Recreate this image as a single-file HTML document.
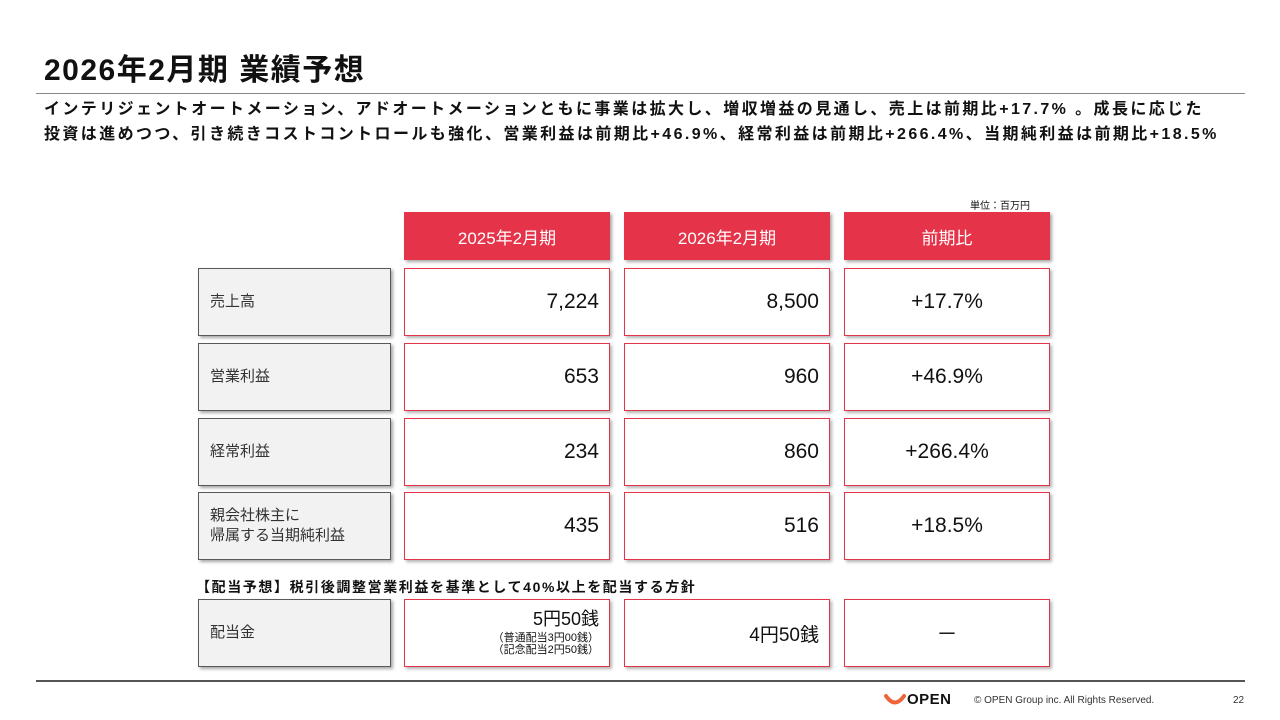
<!DOCTYPE html>
<html><head><meta charset="utf-8"><style>
body{margin:0;width:1280px;height:720px;background:#fff;position:relative;overflow:hidden;font-family:"Liberation Sans","Noto Sans CJK JP",sans-serif;color:#111}
.a{position:absolute;box-sizing:border-box}
.h{background:#e5334a;color:#fff;font-size:17px;display:flex;align-items:center;justify-content:center;box-shadow:2px 2px 3px rgba(0,0,0,.35)}
.l{background:#f2f2f2;border:1.5px solid #595959;font-size:15px;color:#333;display:flex;align-items:center;padding-left:11px;box-shadow:2px 2px 3px rgba(0,0,0,.35);line-height:1.35}
.v{background:#fff;border:1.5px solid #e5334a;font-size:21px;display:flex;align-items:center;justify-content:flex-end;padding-right:10px;box-shadow:2px 2px 3px rgba(0,0,0,.3)}
.c{justify-content:center;padding-right:0}
</style></head><body>
<div class="a" style="left:44px;top:45px;font-size:30px;font-weight:bold;letter-spacing:1.5px">2026年2月期 業績予想</div>
<div class="a" style="left:36px;top:93px;width:1209px;height:1px;background:#888"></div>
<div class="a" style="left:44px;top:97px;font-size:16px;font-weight:bold;line-height:25px;white-space:nowrap;letter-spacing:2.4px">インテリジェントオートメーション、アドオートメーションともに事業は拡大し、増収増益の見通し、売上は前期比+17.7% 。成長に応じた<br>投資は進めつつ、引き続きコストコントロールも強化、営業利益は前期比+46.9%、経常利益は前期比+266.4%、当期純利益は前期比+18.5%</div>
<div class="a" style="left:970px;top:197px;font-size:10px">単位：百万円</div>

<div class="a h" style="left:404px;top:212px;width:206px;height:48px">2025年2月期</div>
<div class="a h" style="left:624px;top:212px;width:206px;height:48px">2026年2月期</div>
<div class="a h" style="left:844px;top:212px;width:206px;height:48px">前期比</div>

<div class="a l" style="left:198px;top:268px;width:193px;height:68px">売上高</div>
<div class="a v" style="left:404px;top:268px;width:206px;height:68px">7,224</div>
<div class="a v" style="left:624px;top:268px;width:206px;height:68px">8,500</div>
<div class="a v c" style="left:844px;top:268px;width:206px;height:68px">+17.7%</div>

<div class="a l" style="left:198px;top:343px;width:193px;height:68px">営業利益</div>
<div class="a v" style="left:404px;top:343px;width:206px;height:68px">653</div>
<div class="a v" style="left:624px;top:343px;width:206px;height:68px">960</div>
<div class="a v c" style="left:844px;top:343px;width:206px;height:68px">+46.9%</div>

<div class="a l" style="left:198px;top:418px;width:193px;height:68px">経常利益</div>
<div class="a v" style="left:404px;top:418px;width:206px;height:68px">234</div>
<div class="a v" style="left:624px;top:418px;width:206px;height:68px">860</div>
<div class="a v c" style="left:844px;top:418px;width:206px;height:68px">+266.4%</div>

<div class="a l" style="left:198px;top:492px;width:193px;height:68px">親会社株主に<br>帰属する当期純利益</div>
<div class="a v" style="left:404px;top:492px;width:206px;height:68px">435</div>
<div class="a v" style="left:624px;top:492px;width:206px;height:68px">516</div>
<div class="a v c" style="left:844px;top:492px;width:206px;height:68px">+18.5%</div>

<div class="a" style="left:196px;top:577px;font-size:14px;font-weight:bold;letter-spacing:1.6px;white-space:nowrap">【配当予想】税引後調整営業利益を基準として40%以上を配当する方針</div>
<div class="a l" style="left:198px;top:599px;width:193px;height:68px">配当金</div>
<div class="a v" style="left:404px;top:599px;width:206px;height:68px;flex-direction:column;align-items:flex-end;justify-content:center;line-height:1.1"><span style="font-size:18px;margin-bottom:2px">5円50銭</span><span style="font-size:11px">（普通配当3円00銭）</span><span style="font-size:11px">（記念配当2円50銭）</span></div>
<div class="a v" style="left:624px;top:599px;width:206px;height:68px;font-size:19px">4円50銭</div>
<div class="a v c" style="left:844px;top:599px;width:206px;height:68px">－</div>

<div class="a" style="left:36px;top:680px;width:1209px;height:1.5px;background:#555"></div>
<svg class="a" style="left:884px;top:693px" width="22" height="14"><path d="M2 3 Q11 16 20 3" stroke="#f0643c" stroke-width="4" fill="none" stroke-linecap="round"/></svg>
<div class="a" style="left:907px;top:691px;font-size:15px;font-weight:bold;letter-spacing:0.5px">OPEN</div>
<div class="a" style="left:974px;top:695px;font-size:10px;color:#333">© OPEN Group inc. All Rights Reserved.</div>
<div class="a" style="left:1233px;top:695px;font-size:10px;color:#333">22</div>
</body></html>
